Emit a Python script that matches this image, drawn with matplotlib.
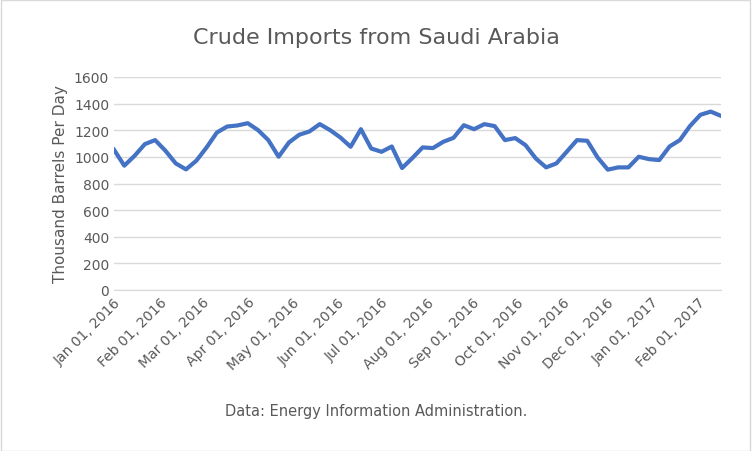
import matplotlib.pyplot as plt
import matplotlib.dates as mdates
import numpy as np
import datetime as dt

start = dt.date(2016, 1, 1)
imports = [1054, 934, 1008, 1096, 1126, 1046, 951, 906, 971, 1071,
           1183, 1228, 1236, 1253, 1201, 1126, 1001, 1108, 1166, 1191,
           1246, 1201, 1146, 1076, 1208, 1063, 1038, 1078, 916, 991,
           1071, 1066, 1113, 1143, 1238, 1208, 1246, 1231, 1126, 1141,
           1088, 988, 921, 951, 1038, 1126, 1121, 996, 904, 921,
           921, 1001, 983, 976, 1078, 1126, 1233, 1316, 1340, 1308]
dates = [start + dt.timedelta(days=7 * i) for i in range(len(imports))]
tick_dates = [dt.date(2016, m, 1) for m in range(1, 13)] + [dt.date(2017, 1, 1), dt.date(2017, 2, 1)]

grey = "#595959"
fig = plt.figure(figsize=(7.52, 4.52), dpi=100)
fig.patches.append(plt.Rectangle((0.001, 0.001), 0.997, 0.997, transform=fig.transFigure,
                                 fill=False, edgecolor="#d9d9d9", linewidth=1))
ax = fig.add_axes([114 / 752, 1 - 291 / 452, (721 - 114) / 752, (291 - 78) / 452])

ax.plot(dates, imports, color="#4472c4", linewidth=3, solid_joinstyle="round")
ax.set_ylim(0, 1600)
ax.set_yticks(np.arange(0, 1601, 200))
ax.set_xlim(dates[0], dates[-1])
ax.set_xticks(tick_dates)
ax.xaxis.set_major_formatter(mdates.DateFormatter("%b %d, %Y"))
ax.grid(axis="y", color="#d9d9d9", linewidth=1)
ax.set_axisbelow(True)
for s in ["top", "right", "left"]:
    ax.spines[s].set_visible(False)
ax.spines["bottom"].set_color("#d9d9d9")
ax.tick_params(length=0, colors=grey, labelsize=10)
plt.setp(ax.get_xticklabels(), rotation=45, ha="right", rotation_mode="anchor")
ax.set_ylabel("Thousand Barrels Per Day", color=grey, fontsize=11)

fig.text(0.5, 1 - 38 / 452, "Crude Imports from Saudi Arabia", ha="center", va="center",
         fontsize=16, color=grey)
fig.text(0.5, 1 - 412 / 452, "Data: Energy Information Administration.", ha="center",
         va="center", fontsize=10.5, color=grey)

fig.savefig("out.png", dpi=100)
